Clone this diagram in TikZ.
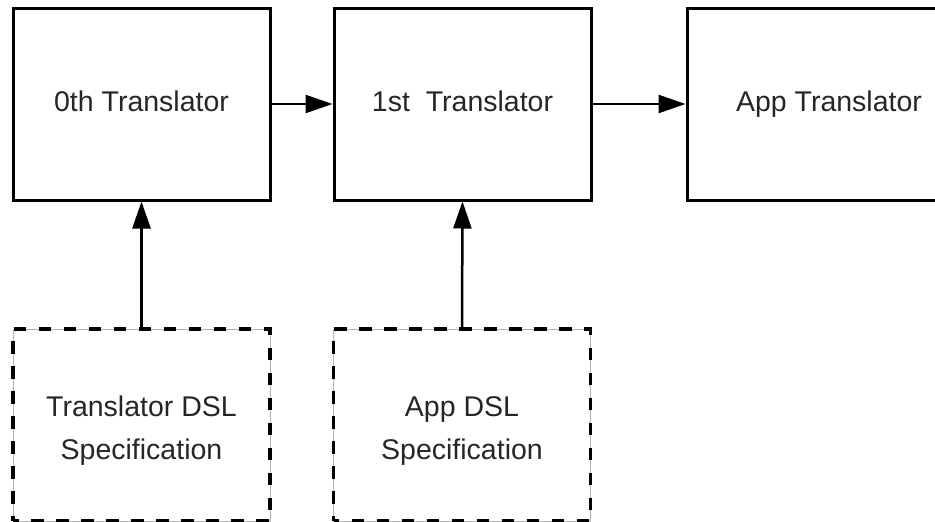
\documentclass[tikz,border=0pt]{standalone}
\usepackage{fontspec}
\setmainfont{Liberation Sans}
\usetikzlibrary{arrows.meta}
\tikzset{
  every node/.style={font=\fontsize{28.5}{43}\selectfont, text=black!85},
  box/.style={draw=black, line width=3pt, minimum width=257pt, minimum height=192pt,
    inner sep=0pt, text height=21pt, text depth=6pt},
  specbox/.style={draw=black, line width=3.2pt, minimum width=257pt, minimum height=192pt,
    inner sep=0pt, align=center, text height=69pt, text depth=1pt,
    dash pattern=on 12.5pt off 12.5pt, dash phase=7pt,
    preaction={draw=black!30, line width=0.6pt, solid}},
  conn/.style={line width=2.5pt, -{Triangle[length=27pt,width=18pt]}}
}
\begin{document}
\begin{tikzpicture}[x=1pt,y=-1pt]
\useasboundingbox (0,0) rectangle (935,522);
\node[box] (t0) at (141.5,104) {0th Translator};
\node[box] (t1) at (462.5,104) {1st\ \ Translator};
\node[box, minimum width=284pt] (app) at (829,104) {App Translator};
\node[specbox] (s0) at (141.5,425) {Translator DSL\\Specification};
\node[specbox] (s1) at (462,425) {App DSL\\Specification};
\draw[conn] (t0.east) -- (t1.west);
\draw[conn] (t1.east) -- (app.west);
\draw[conn] (s0.north) -- (t0.south);
\draw[conn] (s1.north) -- (t1.south);
\end{tikzpicture}
\end{document}
